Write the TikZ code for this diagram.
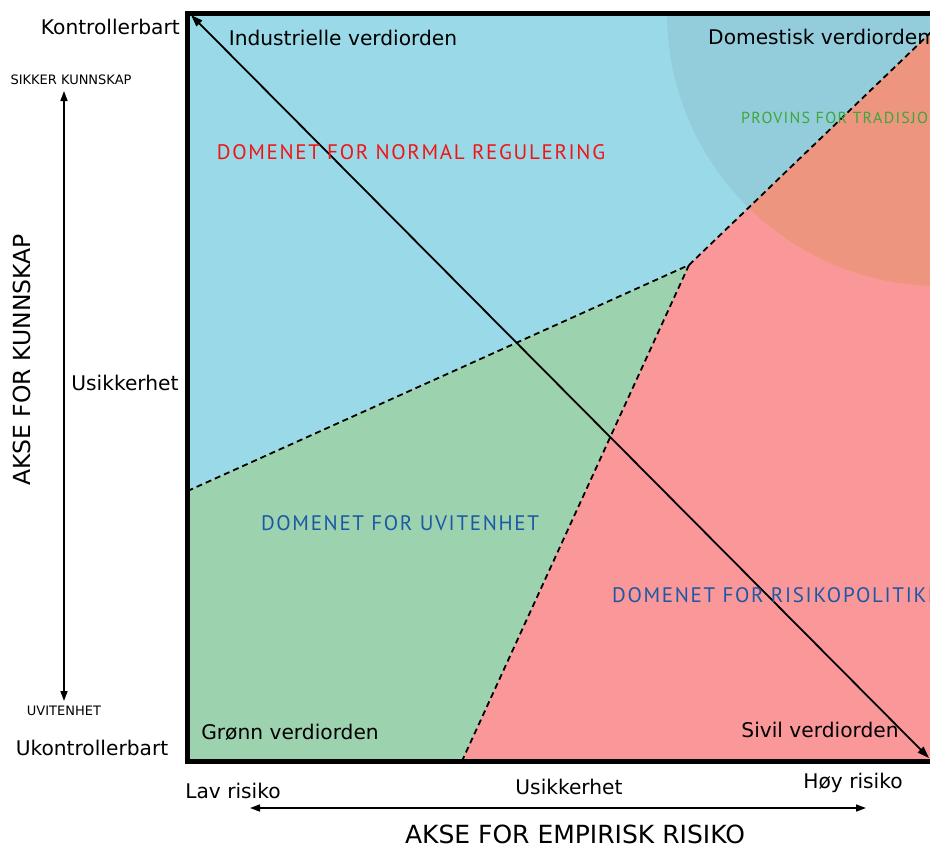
\documentclass[tikz,border=0pt]{standalone}
\usepackage{fontspec}
\setmainfont{DejaVu Sans}
\newfontfamily\domfont{PT Sans}[LetterSpace=8]
\usetikzlibrary{arrows.meta}

\definecolor{regionblue}{HTML}{9AD9E7}
\definecolor{regiongreen}{HTML}{9DD2AF}
\definecolor{regionred}{HTML}{FA9899}
\definecolor{tradblue}{HTML}{93CDDB}
\definecolor{tradred}{HTML}{EE9580}
\definecolor{labelred}{HTML}{F01515}
\definecolor{labelblue}{HTML}{1C58A6}
\definecolor{labelgreen}{HTML}{3EA63A}

\tikzset{
  frameline/.style={line width=5pt, line join=miter},
  boundary/.style={line width=1.8pt, dash pattern=on 6pt off 4pt},
  diagarrow/.style={line width=1.8pt, {Triangle[length=12pt,width=8pt]}-{Triangle[length=12pt,width=8pt]}},
  axisarrow/.style={line width=1.6pt, {Triangle[length=10pt,width=7pt]}-{Triangle[length=10pt,width=7pt]}},
  ordertext/.style={font=\fontsize{20.2}{23}\selectfont, inner sep=0pt},
  smalltext/.style={font=\fontsize{13}{15}\selectfont, inner sep=0pt},
  axistitle/.style={font=\fontsize{23.5}{26}\selectfont, inner sep=0pt},
  domaintext/.style={font=\domfont\fontsize{21}{24}\selectfont, inner sep=0pt},
}

\begin{document}
\begin{tikzpicture}[x=1pt,y=-1pt]
\useasboundingbox (0,0) rectangle (930,846);
\clip (0,0) rectangle (930,846);
\fill[white] (0,0) rectangle (930,846);

% corners of the chart area and the region boundaries
\coordinate (TL) at (187.5,13);
\coordinate (TR) at (965,13);
\coordinate (BR) at (965,761);
\coordinate (BL) at (187.5,761);
\coordinate (L)  at (187.5,491);
\coordinate (V)  at (689,265);
\coordinate (T)  at (951,13);
\coordinate (B)  at (462,761);
\coordinate (C)  at (940,13);

% three domains
\fill[regionblue]  (TL) -- (T) -- (V) -- (L) -- cycle;
\fill[regiongreen] (L) -- (V) -- (B) -- (BL) -- cycle;
\fill[regionred]   (V) -- (T) -- (TR) -- (BR) -- (B) -- cycle;

% province of tradition (quarter disc in the upper right)
\begin{scope}
  \clip (TL) -- (T) -- (V) -- (L) -- cycle;
  \fill[tradblue] (C) circle (273);
\end{scope}
\begin{scope}
  \clip (V) -- (T) -- (TR) -- (BR) -- (B) -- cycle;
  \fill[tradred] (C) circle (273);
\end{scope}

% dashed borders between the domains
\draw[boundary] (L) -- (V) -- (T);
\draw[boundary] (V) -- (B);

% chart frame
\draw[frameline] (TR) -- (TL) -- (BL) -- (BR);

% diagonal from controllable to uncontrollable
\coordinate (dA) at (191,15);
\coordinate (dB) at (929,758);
\draw[diagarrow] (dA) -- (dB);

% labels inside the chart
\node[ordertext] (ind) at (343,38) {Industrielle verdiorden};
\node[ordertext, anchor=west] (dom) at (708,37) {Domestisk verdiorden};
\node[ordertext] (gro) at (290,732) {Grønn verdiorden};
\node[ordertext] (siv) at (820,730) {Sivil verdiorden};

\node[domaintext, text=labelred] (dnr) at (411,152) {DOMENET FOR NORMAL REGULERING};
\node[domaintext, text=labelblue] (duv) at (400,523) {DOMENET FOR UVITENHET};
\node[domaintext, text=labelblue, anchor=west] (drp) at (612,595) {DOMENET FOR RISIKOPOLITIKK};
\node[domaintext, text=labelgreen, anchor=west, font=\domfont\fontsize{16}{18}\selectfont] (prv) at (741,118) {PROVINS FOR TRADISJON};

% knowledge axis
\node[ordertext, anchor=east] (kon) at (180,27) {Kontrollerbart};
\node[ordertext] (ukon) at (92,748) {Ukontrollerbart};
\node[ordertext] (usy) at (125,383) {Usikkerhet};
\node[smalltext] (sik) at (71,80) {SIKKER KUNNSKAP};
\node[smalltext] (uvi) at (64,711) {UVITENHET};
\node[axistitle, rotate=90] (aks) at (22,360) {AKSE FOR KUNNSKAP};
\coordinate (vTop) at (64,91);
\coordinate (vBot) at (64,701);
\draw[axisarrow] (vBot) -- (vTop);

% risk axis
\node[ordertext] (lav) at (233,791) {Lav risiko};
\node[ordertext] (usx) at (569,787) {Usikkerhet};
\node[ordertext] (hoy) at (853,783) {Høy risiko};
\node[axistitle, font=\fontsize{25}{28}\selectfont] (akr) at (575,834) {AKSE FOR EMPIRISK RISIKO};
\coordinate (hL) at (250,808);
\coordinate (hR) at (866,808);
\draw[axisarrow] (hL) -- (hR);
\end{tikzpicture}
\end{document}
